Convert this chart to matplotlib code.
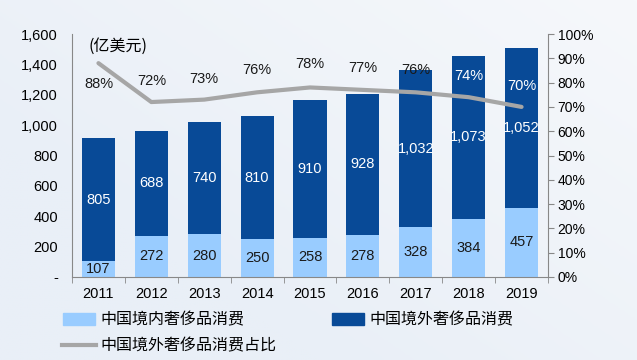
import numpy as np
import matplotlib
matplotlib.use('Agg')
import matplotlib.pyplot as plt
from matplotlib.patches import Patch
from matplotlib.lines import Line2D

plt.rcParams['font.family'] = ['Liberation Sans', 'Noto Sans CJK SC', 'DejaVu Sans']

years = ['2011', '2012', '2013', '2014', '2015', '2016', '2017', '2018', '2019']
domestic = [107, 272, 280, 250, 258, 278, 328, 384, 457]
overseas = [805, 688, 740, 810, 910, 928, 1032, 1073, 1052]
share = [88, 72, 73, 76, 78, 77, 76, 74, 70]

c_dom = '#99ccff'
c_over = '#084a97'
c_line = '#a6a6a6'
axis_col = '#888888'

fig = plt.figure(figsize=(6.37, 3.6), dpi=100)
fig.patch.set_facecolor('#eef3f8')

# soft background
bg = fig.add_axes([0, 0, 1, 1], zorder=-10)
yy, xx = np.mgrid[0:1:200j, 0:1:300j]
grad = np.clip(0.6 * xx + 0.5 * (1 - yy) - 0.3, 0, 1)
bg.imshow(grad, cmap=matplotlib.colors.LinearSegmentedColormap.from_list(
    'bg', ['#e9eff7', '#f6f8fb']), aspect='auto', extent=[0, 1, 0, 1])
bg.axis('off')

ax = fig.add_axes([72 / 637, 1 - 277 / 360, (548 - 72) / 637, (277 - 34) / 360])
ax.patch.set_alpha(0)
x = np.arange(len(years))
w = 0.625
ax.bar(x, domestic, w, color=c_dom, zorder=2)
ax.bar(x, overseas, w, bottom=domestic, color=c_over, zorder=2)

for i in range(len(years)):
    ax.text(x[i], domestic[i] / 2, str(domestic[i]), ha='center', va='center',
            fontsize=10.5, color='#1a1a1a', zorder=3)
    ax.text(x[i], domestic[i] + overseas[i] / 2, f'{overseas[i]:,}', ha='center',
            va='center', fontsize=10.5, color='white', zorder=3)

ax.set_xlim(-0.5, len(years) - 0.5)
ax.set_ylim(0, 1600)
ax.set_yticks(range(0, 1601, 200))
ax.set_yticklabels(['-'] + [f'{v:,}' for v in range(200, 1601, 200)])
ax.set_xticks(x)
ax.set_xticklabels(years)
ax.set_xticks(np.arange(-0.5, len(years), 1), minor=True)
ax.tick_params(axis='x', which='major', length=0, pad=7, labelsize=10.5)
ax.tick_params(axis='x', which='minor', length=4, color=axis_col)
ax.tick_params(axis='y', length=0, pad=10, labelsize=10.5)
for s in ['top', 'right']:
    ax.spines[s].set_visible(False)
for s in ['left', 'bottom']:
    ax.spines[s].set_color(axis_col)
    ax.spines[s].set_linewidth(0.8)
ax.text(0.035, 0.985, '(亿美元)', transform=ax.transAxes, fontsize=11.5,
        va='top', ha='left', family=['Noto Sans CJK SC', 'DejaVu Sans'])

ax2 = ax.twinx()
ax2.plot(x, share, color=c_line, lw=3, solid_capstyle='round', zorder=4)
ax2.set_ylim(0, 100)
ax2.set_yticks(range(0, 101, 10))
ax2.set_yticklabels([f'{v}%' for v in range(0, 101, 10)])
ax2.tick_params(axis='y', length=4, color=axis_col, labelsize=10, pad=3)
for s in ['top', 'left', 'bottom']:
    ax2.spines[s].set_visible(False)
ax2.spines['right'].set_color(axis_col)
ax2.spines['right'].set_linewidth(0.8)

offsets = [-8.6, 8.8, 8.5, 9, 9.6, 9, 9, 8.7, 8.6]
label_cols = ['#1a1a1a'] * 7 + ['white', 'white']
for i in range(len(years)):
    ax2.text(x[i], share[i] + offsets[i], f'{share[i]}%', ha='center', va='center',
             fontsize=10.5, color=label_cols[i], zorder=5)

handles = [Patch(color=c_dom), Patch(color=c_over),
           Line2D([0], [0], color=c_line, lw=3)]
labels = ['中国境内奢侈品消费', '中国境外奢侈品消费', '中国境外奢侈品消费占比']
cjk = {'family': ['Noto Sans CJK SC', 'DejaVu Sans'], 'size': 11.5}
fig.legend(handles[:1], labels[:1], loc='center left', bbox_to_anchor=(49 / 637, 1 - 320 / 360),
           frameon=False, prop=cjk, handlelength=2.0, handleheight=0.8, handletextpad=0.3)
fig.legend(handles[1:2], labels[1:2], loc='center left', bbox_to_anchor=(318 / 637, 1 - 320 / 360),
           frameon=False, prop=cjk, handlelength=2.0, handleheight=0.8, handletextpad=0.3)
fig.legend(handles[2:], labels[2:], loc='center left', bbox_to_anchor=(48 / 637, 1 - 346 / 360),
           frameon=False, prop=cjk, handlelength=2.1, handletextpad=0.3)

fig.savefig('out.png', dpi=100, facecolor=fig.get_facecolor())
